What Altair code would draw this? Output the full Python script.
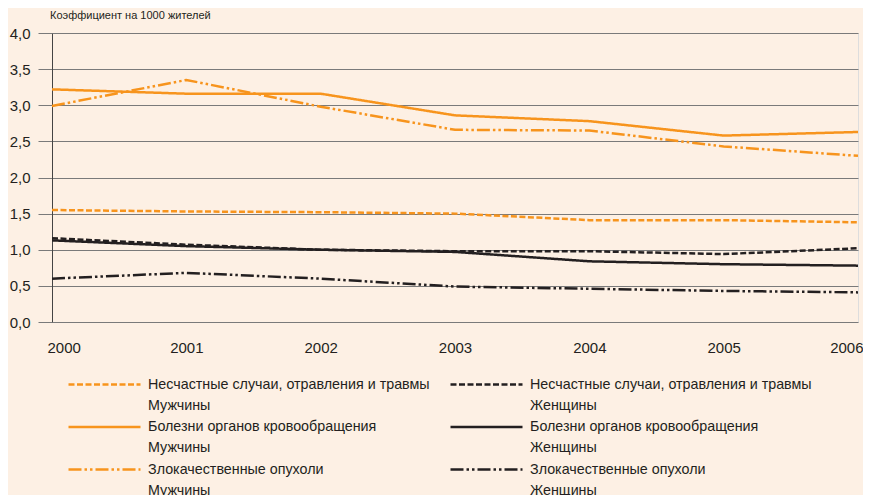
import altair as alt
import pandas as pd

years = [2000, 2001, 2002, 2003, 2004, 2005, 2006]
series_names = [
    "Несчастные случаи, отравления и травмы|Мужчины",
    "Несчастные случаи, отравления и травмы|Женщины",
    "Болезни органов кровообращения|Мужчины",
    "Болезни органов кровообращения|Женщины",
    "Злокачественные опухоли|Мужчины",
    "Злокачественные опухоли|Женщины",
]
accidents_m = [1.55, 1.53, 1.52, 1.50, 1.41, 1.41, 1.38]
accidents_w = [1.16, 1.07, 1.00, 0.98, 0.98, 0.94, 1.02]
circulatory_m = [3.22, 3.16, 3.16, 2.86, 2.78, 2.58, 2.63]
circulatory_w = [1.13, 1.05, 1.00, 0.97, 0.84, 0.80, 0.78]
cancer_m = [2.99, 3.35, 2.98, 2.66, 2.65, 2.43, 2.30]
cancer_w = [0.60, 0.68, 0.60, 0.49, 0.46, 0.43, 0.41]
y_ticks = [0.0, 0.5, 1.0, 1.5, 2.0, 2.5, 3.0, 3.5, 4.0]

all_values = [accidents_m, accidents_w, circulatory_m, circulatory_w, cancer_m, cancer_w]
rows = []
for name, vals in zip(series_names, all_values):
    for yr, v in zip(years, vals):
        rows.append({"year": yr, "value": v, "series": name})
df = pd.DataFrame(rows)

ORANGE = "#F7941D"
BLACK = "#231F20"
colors = [ORANGE, BLACK, ORANGE, BLACK, ORANGE, BLACK]
dashed = [6, 2.5]
solid = [1, 0]
dashdot = [13, 3, 2.5, 3, 2.5, 3]
dashes = [dashed, dashed, solid, solid, dashdot, dashdot]

FONT = "Liberation Sans"

legend = alt.Legend(
    title=None,
    orient="none",
    legendX=15,
    legendY=341,
    columns=2,
    direction="horizontal",
    padding=0,
    columnPadding=19,
    rowPadding=3.5,
    clipHeight=21,
    symbolType="stroke",
    symbolSize=5184,
    symbolStrokeWidth=2.5,
    symbolOffset=0,
    labelOffset=6,
    labelFont=FONT,
    labelFontSize=14.3,
    labelColor=BLACK,
    labelLimit=400,
    labelBaseline="middle",
    labelExpr="split(datum.label, '|')",
)

chart = (
    alt.Chart(df)
    .mark_line(strokeWidth=2.5)
    .encode(
        x=alt.X(
            "year:Q",
            scale=alt.Scale(domain=[2000, 2006], nice=False, zero=False),
            axis=alt.Axis(
                values=years,
                format="d",
                title=None,
                grid=False,
                domain=False,
                ticks=False,
                labelPadding=18,
                labelBaseline="top",
                labelFont=FONT,
                labelFontSize=15,
                labelColor=BLACK,
                labelFlush=True,
                labelFlushOffset=5,
            ),
        ),
        y=alt.Y(
            "value:Q",
            scale=alt.Scale(domain=[0, 4], nice=False),
            axis=alt.Axis(
                values=y_ticks,
                title=None,
                grid=True,
                gridColor="#7a7a7a",
                gridWidth=1,
                gridOpacity=1,
                domain=True,
                domainColor="#444444",
                domainWidth=1,
                ticks=True,
                tickSize=14,
                tickColor="#7a7a7a",
                labelPadding=8,
                labelExpr="replace(format(datum.value, '.1f'), '.', ',')",
                labelFont=FONT,
                labelFontSize=15,
                labelColor=BLACK,
            ),
        ),
        color=alt.Color(
            "series:N",
            sort=series_names,
            scale=alt.Scale(domain=series_names, range=colors),
            legend=legend,
        ),
        strokeDash=alt.StrokeDash(
            "series:N",
            sort=series_names,
            scale=alt.Scale(domain=series_names, range=dashes),
            legend=legend,
        ),
        order="year:Q",
    )
    .properties(
        width=806,
        height=289,
        background="#FDF0E4",
        padding={"left": 44, "top": 25, "right": 5, "bottom": 173},
        autosize=alt.AutoSizeParams(type="none"),
        title=alt.Title(
            "Коэффициент на 1000 жителей",
            anchor="start",
            frame="group",
            fontSize=11,
            fontWeight="normal",
            font=FONT,
            color=BLACK,
            offset=5,
            dx=-2,
        ),
    )
    .configure_view(stroke="#7a7a7a", strokeWidth=1, fill="#FDF0E4")
    .configure(style={"guide-label": {"lineHeight": 21}})
)

chart.save("out.html", embed_options={"renderer": "svg", "actions": False})
